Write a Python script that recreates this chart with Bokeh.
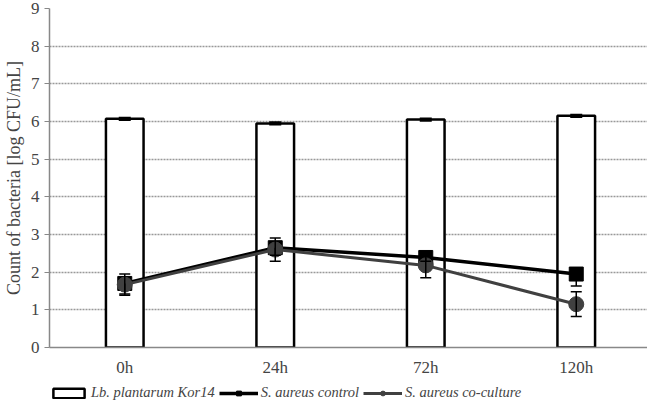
from bokeh.plotting import figure
from bokeh.layouts import column
from bokeh.models import ColumnDataSource, Whisker, Legend, LegendItem, FactorRange, TeeHead
from bokeh.embed import file_html
from bokeh.resources import INLINE

categories = ["0h", "24h", "72h", "120h"]
lb_plantarum = [6.07, 5.95, 6.05, 6.15]
lb_plantarum_err = [0.03, 0.03, 0.03, 0.03]
sa_control = [1.70, 2.65, 2.39, 1.95]
sa_control_err = [0.28, 0.20, 0.10, 0.32]
sa_coculture = [1.67, 2.60, 2.18, 1.15]
sa_coculture_err = [0.28, 0.31, 0.33, 0.33]
y_ticks = list(range(0, 10))

FONT = "Liberation Serif"

def src(vals, errs):
    return ColumnDataSource(dict(
        x=categories, y=vals,
        lo=[v - e for v, e in zip(vals, errs)],
        hi=[v + e for v, e in zip(vals, errs)],
    ))

s_bar = src(lb_plantarum, lb_plantarum_err)
s_ctl = src(sa_control, sa_control_err)
s_co = src(sa_coculture, sa_coculture_err)

p = figure(x_range=FactorRange(*categories, range_padding=0), y_range=(0, 9),
           frame_width=602, frame_height=339, output_backend="svg", toolbar_location=None,
           min_border_left=35, min_border_right=0, min_border_top=8, min_border_bottom=0)
p.outline_line_color = None
p.background_fill_color = "white"

bar_style = dict(fill_color="white", line_color="black", line_width=2.5)
ctl_line = dict(line_color="black", line_width=3.5)
ctl_mark = dict(marker="square", size=14, fill_color="black", line_color="black")
co_line = dict(line_color="#404040", line_width=3)
co_mark = dict(marker="circle", size=15, fill_color="#404040", line_color="#404040")


def draw_series(fig):
    rb = fig.vbar(x="x", top="y", width=0.25, source=s_bar, **bar_style)
    rcl = fig.line(x="x", y="y", source=s_ctl, **ctl_line)
    rcm = fig.scatter(x="x", y="y", source=s_ctl, **ctl_mark)
    rol = fig.line(x="x", y="y", source=s_co, **co_line)
    rom = fig.scatter(x="x", y="y", source=s_co, **co_mark)
    return rb, (rcl, rcm), (rol, rom)


draw_series(p)

p.add_layout(Whisker(base="x", upper="hi", lower="lo", source=s_bar, line_color="black",
                     line_width=2, level="overlay",
                     upper_head=TeeHead(size=12, line_color="black", line_width=2),
                     lower_head=TeeHead(size=12, line_color="black", line_width=2)))
# control: minus-only error bars; co-culture: both directions
p.add_layout(Whisker(base="x", upper="y", lower="lo", source=s_ctl, line_color="black",
                     line_width=1.5, level="overlay", upper_head=None,
                     lower_head=TeeHead(size=11, line_color="black", line_width=1.5)))
p.add_layout(Whisker(base="x", upper="hi", lower="lo", source=s_co, line_color="black",
                     line_width=1.5, level="overlay",
                     upper_head=TeeHead(size=11, line_color="black", line_width=1.5),
                     lower_head=TeeHead(size=11, line_color="black", line_width=1.5)))

# axes
p.yaxis.ticker = y_ticks
p.yaxis.axis_label = "Count of bacteria [log CFU/mL]"
p.yaxis.axis_label_text_font = FONT
p.yaxis.axis_label_text_font_style = "normal"
p.yaxis.axis_label_text_font_size = "18px"
p.yaxis.axis_label_standoff = 4
p.yaxis.major_label_text_font = FONT
p.yaxis.major_label_text_font_size = "17px"
p.yaxis.major_label_standoff = 5
p.yaxis.axis_line_color = "#888888"
p.yaxis.axis_line_width = 1.5
p.yaxis.major_tick_line_color = "#888888"
p.yaxis.major_tick_in = 0
p.yaxis.major_tick_out = 5
p.yaxis.minor_tick_line_color = None

p.xaxis.major_label_text_font = FONT
p.xaxis.major_label_text_font_size = "17px"
p.xaxis.major_label_standoff = 4
p.xaxis.axis_line_color = "#888888"
p.xaxis.axis_line_width = 1.5
p.xaxis.major_tick_line_color = None
p.xaxis.minor_tick_line_color = None

p.xgrid.grid_line_color = None
p.ygrid.grid_line_color = "#999999"
p.ygrid.grid_line_dash = "2 1"
p.ygrid.grid_line_width = 1.5

# legend strip below the chart: same series on a range that holds none of their
# categories, so the marks fall outside and only the legend draws
lg = figure(width=645, height=24, x_range=FactorRange("legend"), y_range=(0, 9),
            output_backend="svg", toolbar_location=None, min_border=0,
            outline_line_color=None, x_axis_location=None, y_axis_location=None)
lg.grid.visible = False
r1, r2, r3 = draw_series(lg)

legend = Legend(items=[
    LegendItem(label="Lb. plantarum Kor14", renderers=[r1]),
    LegendItem(label="S. aureus control", renderers=list(r2)),
    LegendItem(label="S. aureus co-culture", renderers=list(r3)),
], orientation="horizontal", location=(0, 2))
legend.label_text_font = FONT
legend.label_text_font_style = "italic"
legend.label_text_font_size = "14.5px"
legend.border_line_color = None
legend.background_fill_alpha = 0
legend.spacing = 4
legend.glyph_width = 39
legend.glyph_height = 12
legend.label_standoff = 3
legend.padding = 0
legend.margin = 0
lg.add_layout(legend)

layout = column(p, lg, spacing=0)
open("out.html", "w").write(file_html(layout, INLINE))
